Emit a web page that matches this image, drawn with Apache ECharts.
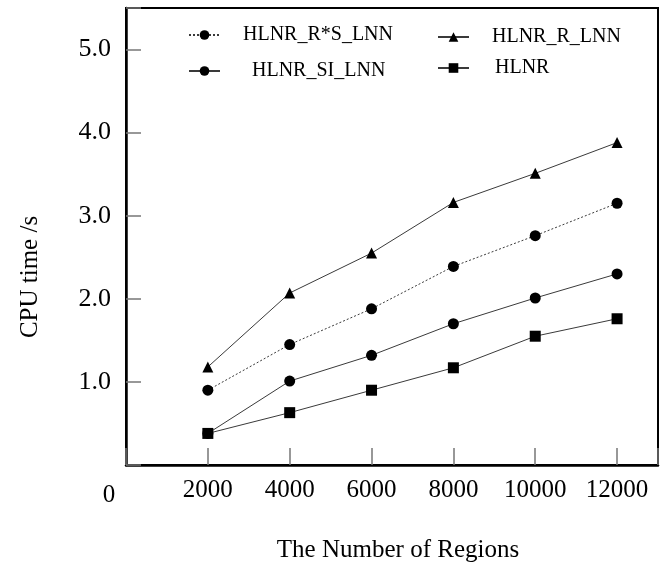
<!DOCTYPE html>
<html>
<head>
<meta charset="utf-8">
<script src="https://cdn.jsdelivr.net/npm/echarts@6/dist/echarts.min.js"></script>
<style>html,body{margin:0;padding:0;background:#fff}#c{width:665px;height:570px}</style>
</head>
<body>
<div id="c"></div>
<script>
const regions = [2000, 4000, 6000, 8000, 10000, 12000];
const seriesNames = ['HLNR_R*S_LNN', 'HLNR_R_LNN', 'HLNR_SI_LNN', 'HLNR'];
const hlnrRSLnn = [0.90, 1.45, 1.88, 2.39, 2.76, 3.15];
const hlnrRLnn  = [1.18, 2.07, 2.55, 3.16, 3.51, 3.88];
const hlnrSILnn = [0.38, 1.01, 1.32, 1.70, 2.01, 2.30];
const hlnr      = [0.38, 0.63, 0.90, 1.17, 1.55, 1.76];
const xTickLabels = ['2000', '4000', '6000', '8000', '10000', '12000'];
const yTickLabels = ['1.0', '2.0', '3.0', '4.0', '5.0'];

const FONT = "'Liberation Serif', 'Times New Roman', serif";
const LINE = '#3a3a3a';
function pts(vals) { return regions.map((x, i) => [x, vals[i]]); }
function mkSeries(name, vals, symbol, dotted) {
  return {
    name: name, type: 'line', data: pts(vals), symbol: symbol, symbolSize: 11,
    itemStyle: { color: '#000' },
    lineStyle: { color: LINE, width: 1, type: dotted ? [2, 2] : 'solid' },
    emphasis: { disabled: true }, animation: false
  };
}
function mkLegend(name, left, centerY, gap) {
  return {
    data: [name], left: left, top: centerY - 10, padding: 0,
    itemWidth: 31, itemHeight: 12, itemGap: 0, selectedMode: false,
    textStyle: { fontFamily: FONT, fontSize: 20, color: '#000', lineHeight: 20, padding: [0, 0, 0, gap] }
  };
}

const chart = echarts.init(document.getElementById('c'), null, { renderer: 'canvas' });
chart.setOption({
  backgroundColor: '#fff',
  animation: false,
  grid: { left: 126, right: 7, top: 8, bottom: 105, show: true, borderColor: '#000', borderWidth: 2, backgroundColor: 'transparent' },
  legend: [
    mkLegend(seriesNames[0], 188, 35, 18),
    mkLegend(seriesNames[2], 188, 71, 27),
    mkLegend(seriesNames[1], 437, 37, 18),
    mkLegend(seriesNames[3], 437, 68, 21)
  ],
  xAxis: {
    type: 'value', min: 0, max: 13000, interval: 2000,
    splitLine: { show: false },
    axisLine: { lineStyle: { color: '#000', width: 2.5 } },
    axisTick: { inside: true, length: 17, lineStyle: { color: '#777', width: 1.5 } },
    axisLabel: {
      margin: 13, color: '#000', fontFamily: FONT, fontSize: 25,
      formatter: function (v) { const i = regions.indexOf(v); return i >= 0 ? xTickLabels[i] : ''; }
    }
  },
  yAxis: {
    type: 'value', min: 0, max: 5.5, interval: 1,
    splitLine: { show: false },
    axisLine: { lineStyle: { color: '#000', width: 2.5 } },
    axisTick: { inside: true, length: 15, lineStyle: { color: '#777', width: 1.5 } },
    axisLabel: {
      margin: 15, color: '#000', fontFamily: FONT, fontSize: 26,
      formatter: function (v) { const i = Math.round(v) - 1; return (Math.abs(v - Math.round(v)) < 1e-9 && i >= 0 && i < 5) ? yTickLabels[i] : ''; }
    }
  },
  graphic: [
    { type: 'text', x: 109, y: 495, style: { text: '0', font: '25px ' + FONT, fill: '#000', align: 'center', verticalAlign: 'middle' } },
    { type: 'text', x: 398, y: 550, style: { text: 'The Number of Regions', font: '25px ' + FONT, fill: '#000', align: 'center', verticalAlign: 'middle' } },
    { type: 'text', x: 30, y: 277, rotation: Math.PI / 2, style: { text: 'CPU time /s', font: '25px ' + FONT, fill: '#000', align: 'center', verticalAlign: 'middle' } }
  ],
  series: [
    mkSeries(seriesNames[0], hlnrRSLnn, 'circle', true),
    mkSeries(seriesNames[1], hlnrRLnn, 'triangle', false),
    mkSeries(seriesNames[2], hlnrSILnn, 'circle', false),
    mkSeries(seriesNames[3], hlnr, 'rect', false)
  ]
});
</script>
</body>
</html>
